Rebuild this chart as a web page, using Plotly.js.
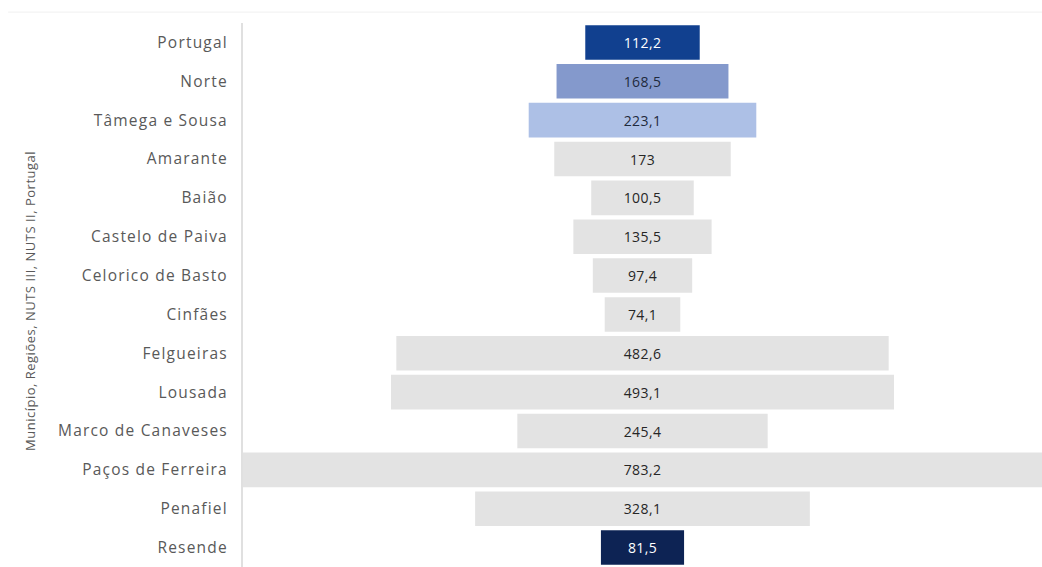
<!DOCTYPE html>
<html>
<head>
<meta charset="utf-8">
<script src="https://cdn.plot.ly/plotly-3.0.1.min.js"></script>
<style>
html,body{margin:0;padding:0;background:#fff;}
#chart{width:1042px;height:567px;}
.ytick text{letter-spacing:1.2px;}
.annotation-text{letter-spacing:0.5px;}
.bartext{letter-spacing:0.4px;}
</style>
</head>
<body>
<div id="chart"></div>
<script>
const categories = ["Portugal","Norte","Tâmega e Sousa","Amarante","Baião","Castelo de Paiva","Celorico de Basto","Cinfães","Felgueiras","Lousada","Marco de Canaveses","Paços de Ferreira","Penafiel","Resende"];
const values = [112.2,168.5,223.1,173,100.5,135.5,97.4,74.1,482.6,493.1,245.4,783.2,328.1,81.5];
const barColors = ["#11408f","#8499cc","#adc0e6","#e3e3e3","#e3e3e3","#e3e3e3","#e3e3e3","#e3e3e3","#e3e3e3","#e3e3e3","#e3e3e3","#e3e3e3","#e3e3e3","#0d2354"];
const textColors = ["#ffffff","#1f2a3c","#1f2a3c","#262626","#262626","#262626","#262626","#262626","#262626","#262626","#262626","#262626","#262626","#ffffff"];
const yTitle = 'Município, Regiões, NUTS III, NUTS II, Portugal';
const labels = values.map(v => String(v).replace('.', ','));
const maxV = Math.max(...values);

Plotly.newPlot('chart', [{
  type: 'funnel',
  orientation: 'h',
  y: categories,
  x: values,
  text: labels,
  texttemplate: '%{text}',
  textposition: 'inside',
  insidetextanchor: 'middle',
  insidetextfont: {family: 'Open Sans, sans-serif', size: 14, color: textColors},
  constraintext: 'none',
  marker: {color: barColors, line: {width: 0}},
  connector: {visible: false},
  hoverinfo: 'none'
}], {
  width: 1042, height: 567,
  margin: {l: 243, r: 0, t: 23, b: 0, pad: 0},
  paper_bgcolor: '#ffffff', plot_bgcolor: '#ffffff',
  funnelgap: 0.11,
  showlegend: false,
  font: {family: 'Open Sans, sans-serif', color: '#595959'},
  xaxis: {range: [-maxV/2, maxV/2], visible: false, showgrid: false, zeroline: false, fixedrange: true},
  yaxis: {
    autorange: 'reversed',
    showline: true, linecolor: '#e0e0e0', linewidth: 2,
    ticks: 'outside', ticklen: 10, tickcolor: 'rgba(0,0,0,0)',
    tickfont: {family: 'Open Sans, sans-serif', size: 15.5, color: '#595959'},
    showgrid: false, zeroline: false
  },
  annotations: [{
    text: yTitle, textangle: -90, showarrow: false,
    xref: 'paper', yref: 'paper', x: (30 - 243) / 799, y: 1 - (301 - 23) / 544,
    xanchor: 'center', yanchor: 'middle',
    font: {family: 'Open Sans, sans-serif', size: 13, color: '#595959'}
  }],
  shapes: [{type: 'line', xref: 'paper', yref: 'paper', x0: -0.294, x1: 1, y0: 1.02, y1: 1.02, line: {color: '#f0f0f0', width: 1}}]
}, {displayModeBar: false, staticPlot: true});
</script>
</body>
</html>
